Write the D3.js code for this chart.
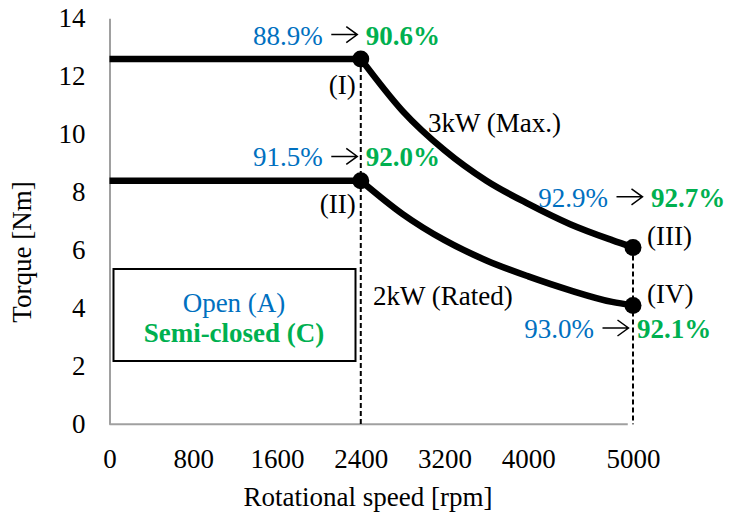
<!DOCTYPE html>
<html>
<head>
<meta charset="utf-8">
<script src="https://cdn.jsdelivr.net/npm/d3@7"></script>
<style>
  body { margin: 0; background: #fff; }
  text { font-family: "Liberation Serif", "Times New Roman", serif; }
  .axis .domain { stroke: #a0a0a0; stroke-width: 2px; }
  .axis text { font-size: 27px; fill: #000; font-family: "Liberation Serif", serif; }
</style>
</head>
<body>
<svg id="chart" width="732" height="521"></svg>
<script>
// torque-speed envelope
var flat_rpm = [0, 2400];
var max_flat = [12.6, 12.6];
var rated_flat = [8.4, 8.4];

var curve_rpm = [2400, 2800, 3200, 3600, 4000, 4400, 4800, 5000];
var max_torque = [12.6, 10.8, 9.45, 8.4, 7.6, 6.9, 6.35, 6.1];
var rated_torque = [8.4, 7.25, 6.35, 5.65, 5.1, 4.62, 4.22, 4.1];

// operating points (I)..(IV)
var point_names = ["(I)", "(II)", "(III)", "(IV)"];
var point_rpm = [2400, 2400, 5000, 5000];
var point_torque = [12.6, 8.4, 6.1, 4.1];
var open_eff = ["88.9%", "91.5%", "92.9%", "93.0%"];
var semi_eff = ["90.6%", "92.0%", "92.7%", "92.1%"];

var x_ticks = [0, 800, 1600, 2400, 3200, 4000, 5000];
var y_ticks = [0, 2, 4, 6, 8, 10, 12, 14];

var blue = "#0070C0", green = "#00B050";

var svg = d3.select("#chart");

var xScale = d3.scaleLinear().domain([0, 5000]).range([109.5, 633]);
var yScale = d3.scaleLinear().domain([0, 14]).range([424.3, 18.3]);

// axes (no tick marks, grey lines)
var xAxis = d3.axisBottom(xScale).tickValues(x_ticks).tickSize(0).tickPadding(25).tickFormat(d3.format("d"));
var yAxis = d3.axisLeft(yScale).tickValues(y_ticks).tickSize(0).tickPadding(24);

var gx = svg.append("g")
    .attr("class", "axis")
    .attr("transform", "translate(0," + yScale(0) + ")")
    .call(xAxis);
// axis line stops a little short of the 5000 label
gx.select(".domain").attr("d", "M" + xScale(0) + ",0H" + xScale(4950));

svg.append("g")
    .attr("class", "axis")
    .attr("transform", "translate(" + xScale(0) + ",0)")
    .call(yAxis);

// titles
svg.append("text")
    .attr("x", 368)
    .attr("y", 506)
    .attr("text-anchor", "middle")
    .attr("font-size", "27px")
    .text("Rotational speed [rpm]");

svg.append("text")
    .attr("transform", "translate(31,252) rotate(-90)")
    .attr("text-anchor", "middle")
    .attr("font-size", "27px")
    .text("Torque [Nm]");

// dashed guides at base speed and max speed
var guides = [[2400, 12.6], [5000, 6.1]];
svg.selectAll(".guide")
    .data(guides)
    .enter().append("line")
    .attr("class", "guide")
    .attr("x1", function(d) { return xScale(d[0]); })
    .attr("x2", function(d) { return xScale(d[0]); })
    .attr("y1", function(d) { return yScale(d[1]); })
    .attr("y2", yScale(0))
    .attr("stroke", "#000")
    .attr("stroke-width", 2)
    .attr("stroke-dasharray", "5,3");

// curves
var lineFlat = d3.line()
    .x(function(d) { return xScale(d[0]); })
    .y(function(d) { return yScale(d[1]); });
var lineCurve = d3.line()
    .x(function(d) { return xScale(d[0]); })
    .y(function(d) { return yScale(d[1]); })
    .curve(d3.curveMonotoneX);

[max_flat, rated_flat].forEach(function(vals) {
    svg.append("path")
        .attr("d", lineFlat(d3.zip(flat_rpm, vals)))
        .attr("fill", "none")
        .attr("stroke", "#000")
        .attr("stroke-width", 6.5);
});
[max_torque, rated_torque].forEach(function(vals) {
    svg.append("path")
        .attr("d", lineCurve(d3.zip(curve_rpm, vals)))
        .attr("fill", "none")
        .attr("stroke", "#000")
        .attr("stroke-width", 6.5);
});

svg.selectAll(".pt")
    .data(point_rpm)
    .enter().append("circle")
    .attr("class", "pt")
    .attr("cx", function(d) { return xScale(d); })
    .attr("cy", function(d, i) { return yScale(point_torque[i]); })
    .attr("r", 8.5)
    .attr("fill", "#000");

// curve labels
svg.append("text")
    .attr("x", xScale(3043)).attr("y", yScale(10.08))
    .attr("font-size", "27px")
    .text("3kW (Max.)");
svg.append("text")
    .attr("x", xScale(2517)).attr("y", yScale(4.11))
    .attr("font-size", "27px")
    .text("2kW (Rated)");

// point names: [dx, dy, anchor]
var name_pos = [[-5, 35, "end"], [-5, 32, "end"], [14, -2, "start"], [14, -2, "start"]];
point_names.forEach(function(name, i) {
    var px = xScale(point_rpm[i]), py = yScale(point_torque[i]);
    svg.append("text")
        .attr("x", px + name_pos[i][0])
        .attr("y", py + name_pos[i][1])
        .attr("text-anchor", name_pos[i][2])
        .attr("font-size", "27px")
        .text(name);
});

// efficiency annotations: arrow centre offset and baseline offset from the point
var eff_pos = [[-16.5, -14.3], [-16.5, -14.3], [-3.5, -40.6], [-17.5, 32.6]];
open_eff.forEach(function(v, i) {
    var ax = xScale(point_rpm[i]) + eff_pos[i][0];
    var ay = yScale(point_torque[i]) + eff_pos[i][1];
    svg.append("text")
        .attr("x", ax - 21.5).attr("y", ay)
        .attr("text-anchor", "end")
        .attr("font-size", "27px")
        .attr("fill", blue)
        .text(v);
    // open-headed arrow
    var my = ay - 10;
    svg.append("path")
        .attr("d", "M" + (ax - 13) + "," + my + "H" + (ax + 13) +
            "M" + (ax + 2) + "," + (my - 8) + "L" + (ax + 13) + "," + my + "L" + (ax + 2) + "," + (my + 8))
        .attr("fill", "none")
        .attr("stroke", "#000")
        .attr("stroke-width", 1.5);
    svg.append("text")
        .attr("x", ax + 21.5).attr("y", ay)
        .attr("font-size", "27px")
        .attr("font-weight", "bold")
        .attr("fill", green)
        .text(semi_eff[i]);
});

// legend box
svg.append("rect")
    .attr("x", 113.5).attr("y", 269)
    .attr("width", 242).attr("height", 92)
    .attr("fill", "#fff")
    .attr("stroke", "#000")
    .attr("stroke-width", 2);
svg.append("text")
    .attr("x", 234).attr("y", 311.5)
    .attr("text-anchor", "middle")
    .attr("font-size", "27px")
    .attr("fill", blue)
    .text("Open (A)");
svg.append("text")
    .attr("x", 234).attr("y", 341.5)
    .attr("text-anchor", "middle")
    .attr("font-size", "27px")
    .attr("font-weight", "bold")
    .attr("fill", green)
    .text("Semi-closed (C)");
</script>
</body>
</html>
